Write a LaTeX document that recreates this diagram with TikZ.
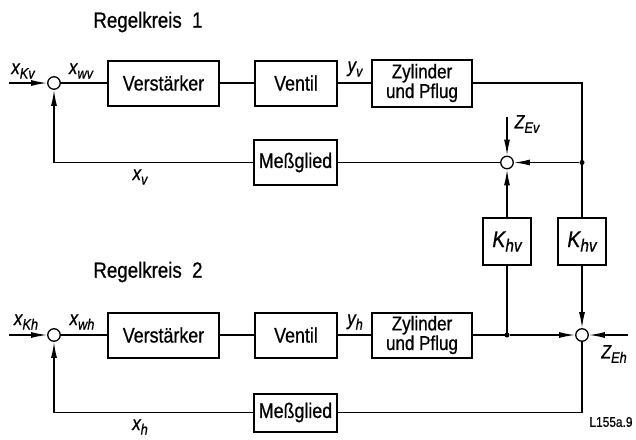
\documentclass[tikz,border=0pt]{standalone}
\usepackage{fontspec}
\setmainfont{Liberation Sans}[FakeStretch=0.85,FakeBold=0.7]
\usetikzlibrary{arrows.meta}
\newcommand\vsub[2][15]{\raisebox{-4.5pt}{\fontsize{#1}{#1}\selectfont #2}}
\begin{document}
\begin{tikzpicture}[x=1pt,y=-1pt,line width=1.4pt,
  font=\fontsize{21}{21}\selectfont,
  blk/.style={draw,line width=2pt,inner sep=0pt,align=center},
  sumc/.style={circle,draw,line width=1.3pt,minimum size=12.5pt,inner sep=0pt,fill=white},
  dotn/.style={circle,fill,minimum size=5pt,inner sep=0pt},
  arr/.style={-{Latex[length=16pt,width=6pt]}},
  lbl/.style={inner sep=0pt,font=\fontsize{20}{20}\selectfont\itshape}]
\useasboundingbox (0,0) rectangle (636,439);
% ---- blocks, Regelkreis 1
\node[blk,minimum width=111pt,minimum height=45pt] (v1) at (163.5,83) {Verstärker};
\node[blk,minimum width=82pt,minimum height=45pt] (ve1) at (296,83) {Ventil};
\node[blk,minimum width=100pt,minimum height=47pt,font=\fontsize{20}{18}\selectfont] (z1) at (422,83) {Zylinder\\und Pflug};
\node[blk,minimum width=83pt,minimum height=45pt] (m1) at (295.5,162.5) {Meßglied};
% ---- K blocks
\node[blk,minimum width=48pt,minimum height=47pt] (k1) at (507,241.5) {\fontsize{23}{23}\selectfont\itshape K\vsub[18]{hv}};
\node[blk,minimum width=48pt,minimum height=47pt] (k2) at (582,241.5) {\fontsize{23}{23}\selectfont\itshape K\vsub[18]{hv}};
% ---- blocks, Regelkreis 2
\node[blk,minimum width=111pt,minimum height=45pt] (v2) at (163.5,335) {Verstärker};
\node[blk,minimum width=82pt,minimum height=45pt] (ve2) at (296,335) {Ventil};
\node[blk,minimum width=100pt,minimum height=45pt,font=\fontsize{20}{18}\selectfont] (z2) at (422,335) {Zylinder\\und Pflug};
\node[blk,minimum width=83pt,minimum height=38pt] (m2) at (295.5,412.5) {Meßglied};
% ---- summing points and dots
\node[sumc] (s1) at (54,83) {};
\node[sumc] (s2) at (507,162.5) {};
\node[sumc] (s3) at (54,335) {};
\node[sumc] (s4) at (582,335) {};
\node[dotn] (d1) at (582,162.5) {};
\node[dotn] (d2) at (507,335) {};
\coordinate (in1) at (9,83);
\coordinate (in3) at (9,335);
\coordinate (c1) at (582,83);
\coordinate (ze1) at (507,117);
\coordinate (ze2) at (628,335);
% ---- connectors, Regelkreis 1
\draw[arr] (in1) -- (s1);
\draw (s1) -- (v1);
\draw (v1) -- (ve1);
\draw (ve1) -- (z1);
\draw (z1.east) -- (c1) -- (d1.center) -- (k2.north);
\draw[arr] (d1) -- (s2);
\draw[arr] (ze1) -- (s2);
\draw[arr] (k1.north) -- (s2);
\draw (s2) -- (m1);
\draw[arr] (m1.west) -| (s1);
% ---- connectors, Regelkreis 2
\draw[arr] (in3) -- (s3);
\draw (s3) -- (v2);
\draw (v2) -- (ve2);
\draw (ve2) -- (z2);
\draw (z2.east) -- (d2.center);
\draw[arr] (d2) -- (s4);
\draw (d2.center) -- (k1.south);
\draw[arr] (k2.south) -- (s4);
\draw[arr] (ze2) -- (s4);
\draw (s4) |- (m2.east);
\draw[arr] (m2.west) -| (s3);
% ---- labels
\node (t1) at (148,22) {\fontsize{22}{22}\selectfont Regelkreis\ \ 1};
\node (t2) at (148,272) {\fontsize{22}{22}\selectfont Regelkreis\ \ 2};
\node[lbl] (lxkv) at (23,71) {x\vsub{Kv}};
\node[lbl] (lxwv) at (81,71) {x\vsub{wv}};
\node[lbl] (lyv) at (355,69) {y\vsub{v}};
\node[lbl] (lzev) at (527,124) {\fontsize{19}{19}\selectfont Z\vsub{Ev}};
\node[lbl] (lxv) at (140,177) {x\vsub{v}};
\node[lbl] (lxkh) at (26,322) {x\vsub{Kh}};
\node[lbl] (lxwh) at (82,322) {x\vsub{wh}};
\node[lbl] (lyh) at (355,322) {y\vsub{h}};
\node[lbl] (lzeh) at (614,354) {\fontsize{19}{19}\selectfont Z\vsub{Eh}};
\node[lbl] (lxh) at (140,427) {x\vsub{h}};
\node (t3) at (611,422) {\fontsize{14}{14}\selectfont L155a.9};
\end{tikzpicture}
\end{document}
